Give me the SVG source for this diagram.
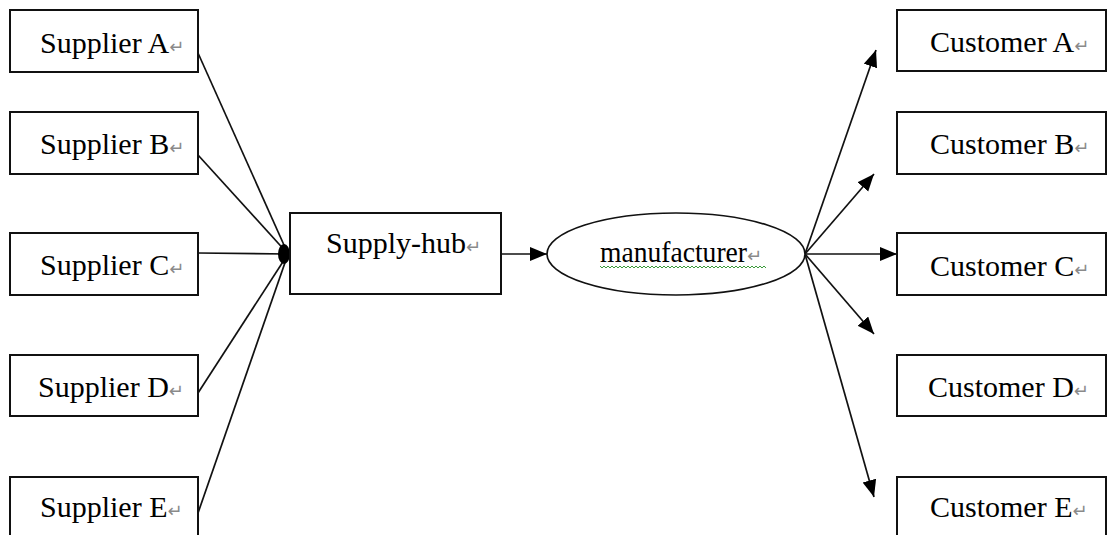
<svg xmlns="http://www.w3.org/2000/svg" width="1107" height="535" viewBox="0 0 1107 535">
<style>
.box{fill:#fff;stroke:#111;stroke-width:2}
.lbl{font-family:"Liberation Serif","Times New Roman",serif;font-size:30px;fill:#000}
.ret{font-family:"DejaVu Sans",sans-serif;font-size:18px;fill:#8a8a8a}
.ln{stroke:#111;stroke-width:1.7;fill:none}
</style>
<defs>
<marker id="arr" markerUnits="userSpaceOnUse" markerWidth="19" markerHeight="15" refX="17" refY="7" orient="auto">
<path d="M0,0 L17,7 L0,14 z" fill="#000"/>
</marker>
</defs>
<rect width="1107" height="535" fill="#fff"/>
<g id="connectors">
<line class="ln" x1="198" y1="53" x2="288" y2="254"/>
<line class="ln" x1="198" y1="155" x2="288" y2="254"/>
<line class="ln" x1="198" y1="253" x2="288" y2="254"/>
<line class="ln" x1="198" y1="393" x2="288" y2="254"/>
<line class="ln" x1="198" y1="513" x2="288" y2="254"/>
<ellipse cx="284" cy="254" rx="6" ry="10" fill="#000"/>
<line class="ln" x1="501" y1="254" x2="547" y2="254" marker-end="url(#arr)"/>
<line class="ln" x1="805" y1="254" x2="876" y2="50" marker-end="url(#arr)"/>
<line class="ln" x1="805" y1="254" x2="874" y2="174" marker-end="url(#arr)"/>
<line class="ln" x1="805" y1="254" x2="897" y2="254" marker-end="url(#arr)"/>
<line class="ln" x1="805" y1="254" x2="874" y2="334" marker-end="url(#arr)"/>
<line class="ln" x1="805" y1="254" x2="874" y2="497" marker-end="url(#arr)"/>
</g>
<g id="supplierA"><rect class="box" x="10" y="10" width="188" height="62"/><text class="lbl" x="40" y="53">Supplier A<tspan class="ret">↵</tspan></text></g>
<g id="supplierB"><rect class="box" x="10" y="112" width="188" height="62"/><text class="lbl" x="40" y="154">Supplier B<tspan class="ret">↵</tspan></text></g>
<g id="supplierC"><rect class="box" x="10" y="233" width="188" height="62"/><text class="lbl" x="40" y="275">Supplier C<tspan class="ret">↵</tspan></text></g>
<g id="supplierD"><rect class="box" x="10" y="355" width="188" height="61"/><text class="lbl" x="38" y="397">Supplier D<tspan class="ret">↵</tspan></text></g>
<g id="supplierE"><rect class="box" x="10" y="477" width="188" height="70"/><text class="lbl" x="40" y="517">Supplier E<tspan class="ret">↵</tspan></text></g>
<g id="supplyhub"><rect class="box" x="290" y="213" width="211" height="81"/><text class="lbl" x="326" y="253">Supply-hub<tspan class="ret">↵</tspan></text></g>
<g id="manufacturer">
<ellipse cx="676" cy="254" rx="129" ry="41" fill="#fff" stroke="#111" stroke-width="1.7"/>
<text class="lbl" x="600" y="262"><tspan textLength="147" lengthAdjust="spacingAndGlyphs">manufacturer</tspan><tspan class="ret">↵</tspan></text>
<path d="M600,266 l2,2 l2,-2 l2,2 l2,-2 l2,2 l2,-2 l2,2 l2,-2 l2,2 l2,-2 l2,2 l2,-2 l2,2 l2,-2 l2,2 l2,-2 l2,2 l2,-2 l2,2 l2,-2 l2,2 l2,-2 l2,2 l2,-2 l2,2 l2,-2 l2,2 l2,-2 l2,2 l2,-2 l2,2 l2,-2 l2,2 l2,-2 l2,2 l2,-2 l2,2 l2,-2 l2,2 l2,-2 l2,2 l2,-2 l2,2 l2,-2 l2,2 l2,-2 l2,2 l2,-2 l2,2 l2,-2 l2,2 l2,-2 l2,2 l2,-2 l2,2 l2,-2 l2,2 l2,-2 l2,2 l2,-2 l2,2 l2,-2 l2,2 l2,-2 l2,2 l2,-2 l2,2 l2,-2 l2,2 l2,-2 l2,2 l2,-2 l2,2 l2,-2 l2,2 l2,-2 l2,2 l2,-2 l2,2 l2,-2 l2,2 l2,-2 l2,2" fill="none" stroke="#3a9a3a" stroke-width="1"/>
</g>
<g id="customerA"><rect class="box" x="897" y="10" width="209" height="61"/><text class="lbl" x="930" y="52">Customer A<tspan class="ret">↵</tspan></text></g>
<g id="customerB"><rect class="box" x="897" y="112" width="209" height="62"/><text class="lbl" x="930" y="154">Customer B<tspan class="ret">↵</tspan></text></g>
<g id="customerC"><rect class="box" x="897" y="233" width="209" height="62"/><text class="lbl" x="930" y="276">Customer C<tspan class="ret">↵</tspan></text></g>
<g id="customerD"><rect class="box" x="897" y="355" width="209" height="61"/><text class="lbl" x="928" y="397">Customer D<tspan class="ret">↵</tspan></text></g>
<g id="customerE"><rect class="box" x="897" y="477" width="209" height="70"/><text class="lbl" x="930" y="517">Customer E<tspan class="ret">↵</tspan></text></g>
</svg>
